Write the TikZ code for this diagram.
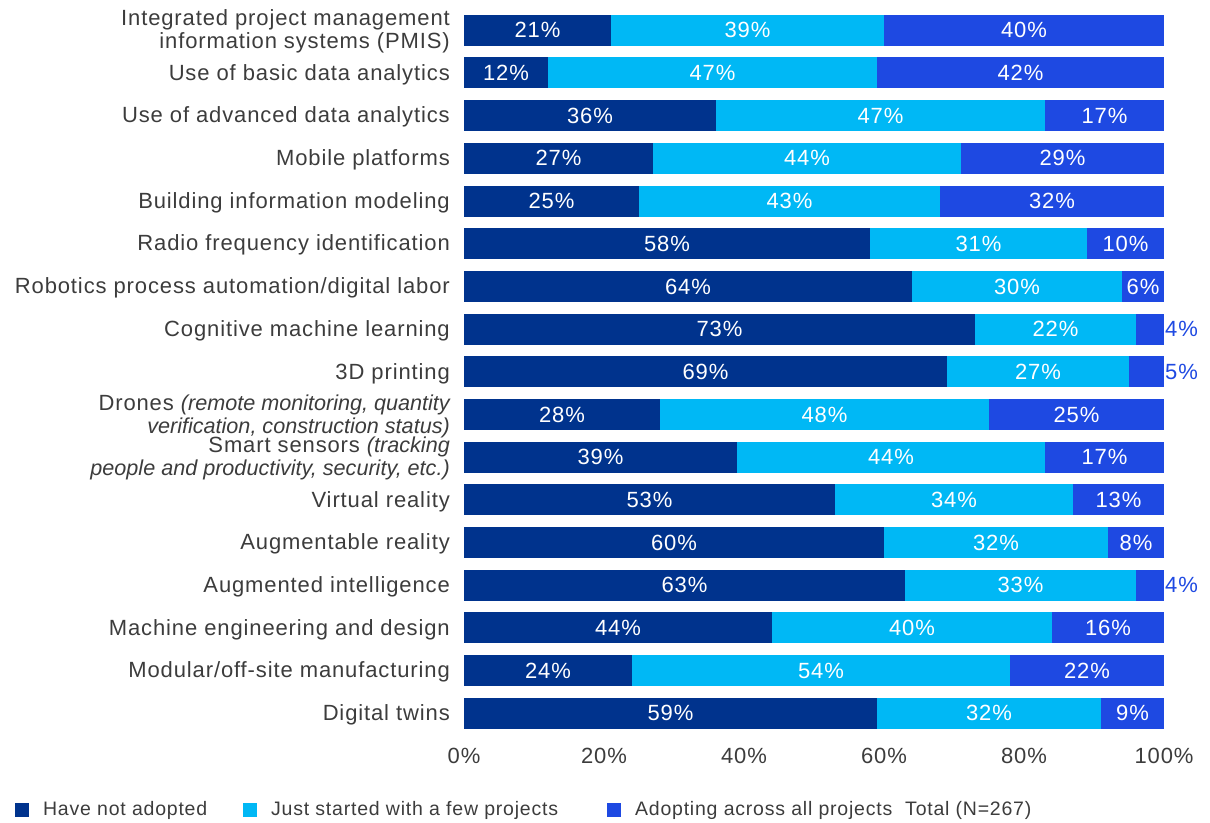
\documentclass[tikz,border=0pt]{standalone}
\usepackage{fontspec}
\setmainfont{Liberation Sans}[LetterSpace=4]
\newfontfamily\notefont{Liberation Sans}
\usetikzlibrary{positioning}
\definecolor{navybar}{HTML}{00338D}
\definecolor{cyanbar}{HTML}{00B8F5}
\definecolor{bluebar}{HTML}{1E49E2}
\definecolor{labgray}{HTML}{3C3C3C}
\newcommand{\note}[1]{{\notefont\itshape\fontsize{21.6}{23}\selectfont #1}}
\tikzset{
  pct/.style={text=white,inner sep=0pt,font=\fontsize{22}{22}\selectfont},
  outpct/.style={text=bluebar,inner sep=0pt,anchor=west,font=\fontsize{22}{22}\selectfont},
  catlab/.style={anchor=east,align=right,text=labgray,inner sep=0pt,font=\fontsize{22}{23}\selectfont},
  axlab/.style={text=labgray,inner sep=0pt,font=\fontsize{22}{22}\selectfont},
  legsq/.style={minimum width=13.5pt,minimum height=13.5pt,inner sep=0pt},
  leglab/.style={text=labgray,inner sep=0pt,font=\fontsize{19.5}{20}\selectfont}
}
\begin{document}
\begin{tikzpicture}[x=1pt,y=-1pt]
\useasboundingbox (0,0) rectangle (1210,822);
% bars: first split / second split / three values
\foreach \i/\lab/\a/\s/\pa/\pb/\pc in {
  1/{Integrated project management\\information systems (PMIS)}/21/60/21/39/40,
  2/{Use of basic data analytics}/12/59/12/47/42,
  3/{Use of advanced data analytics}/36/83/36/47/17,
  4/{Mobile platforms}/27/71/27/44/29,
  5/{Building information modeling}/25/68/25/43/32,
  6/{Radio frequency identification}/58/89/58/31/10,
  7/{Robotics process automation/digital labor}/64/94/64/30/6,
  8/{Cognitive machine learning}/73/96/73/22/4,
  9/{3D printing}/69/95/69/27/5,
  10/{Drones \note{(remote monitoring, quantity}\\\note{verification, construction status)}}/28/75/28/48/25,
  11/{Smart sensors \note{(tracking}\\\note{people and productivity, security, etc.)}}/39/83/39/44/17,
  12/{Virtual reality}/53/87/53/34/13,
  13/{Augmentable reality}/60/92/60/32/8,
  14/{Augmented intelligence}/63/96/63/33/4,
  15/{Machine engineering and design}/44/84/44/40/16,
  16/{Modular/off-site manufacturing}/24/78/24/54/22,
  17/{Digital twins}/59/91/59/32/9}{
  \pgfmathsetmacro{\yy}{30.3+42.69*(\i-1)}
  \pgfmathsetmacro{\xa}{464+7*\a}
  \pgfmathsetmacro{\xs}{464+7*\s}
  \fill[navybar] (464,\yy-15.5) rectangle (\xa,\yy+15.5);
  \fill[cyanbar] (\xa,\yy-15.5) rectangle (\xs,\yy+15.5);
  \fill[bluebar] (\xs,\yy-15.5) rectangle (1164,\yy+15.5);
  \node[catlab] (lab\i) at (450,\yy+1.5) {\lab};
  \node[pct] (na\i) at ({(464+\xa)/2},\yy) {\pa\%};
  \node[pct] (nb\i) at ({(\xa+\xs)/2},\yy) {\pb\%};
  \ifnum\pc<6
    \node[outpct] (nc\i) at (1165,\yy) {\pc\%};
  \else
    \node[pct] (nc\i) at ({(\xs+1164)/2},\yy) {\pc\%};
  \fi
}
% axis
\foreach \t in {0,20,...,100}
  \node[axlab] (ax\t) at (464+7*\t,755.5) {\t\%};
% legend
\node[legsq,fill=navybar] (sq1) at (22,810) {};
\node[leglab,right=14pt of sq1] (leg1) {Have not adopted};
\node[legsq,fill=cyanbar] (sq2) at (250,810) {};
\node[leglab,right=14pt of sq2] (leg2) {Just started with a few projects};
\node[legsq,fill=bluebar] (sq3) at (614,810) {};
\node[leglab,right=14pt of sq3] (leg3) {Adopting across all projects};
\node[leglab,anchor=west] (tot) at (905,810) {Total (N=267)};
\end{tikzpicture}
\end{document}
